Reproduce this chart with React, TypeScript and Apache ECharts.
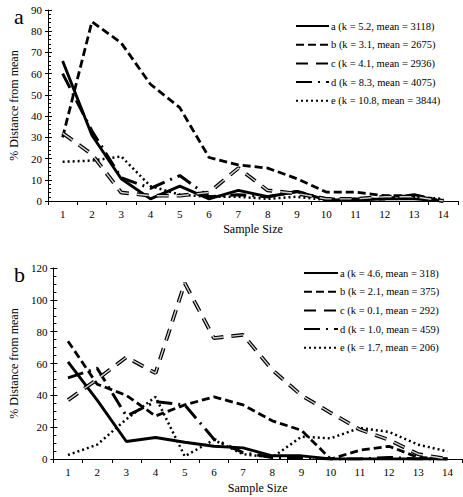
import React, { useEffect, useRef } from "react";
import * as echarts from "echarts";

const categories = ["1", "2", "3", "4", "5", "6", "7", "8", "9", "10", "11", "12", "13", "14"];

// Panel a
const namesA = [
  "a (k = 5.2, mean = 3118)",
  "b (k = 3.1, mean = 2675)",
  "c (k = 4.1, mean = 2936)",
  "d (k = 8.3, mean = 4075)",
  "e (k = 10.8, mean = 3844)",
];
const aA = [66, 31, 10.5, 1, 7, 1, 5, 2, 4.5, 0.5, 0.5, 1, 1, 0];
const bA = [30, 84.5, 74.5, 55, 44, 20.5, 17, 15.5, 10.5, 4.2, 4.2, 2.5, 2.5, 0];
const cA = [32, 22, 4, 2.5, 2.5, 4, 15.5, 5, 3.5, 1, 1, 2, 2, 0];
const dA = [60, 33, 11, 6, 12, 2, 3, 2, 4.5, 1, 1, 1, 3, 0];
const eA = [18.5, 19, 21, 7, 3, 2, 2, 1, 2, 0.5, 1, 1, 2, 1];

// Panel b
const namesB = [
  "a (k = 4.6, mean = 318)",
  "b (k = 2.1, mean = 375)",
  "c (k = 0.1, mean = 292)",
  "d (k = 1.0, mean = 459)",
  "e (k = 1.7, mean = 206)",
];
const aB = [61, 37, 11, 13.5, 10.5, 8, 7, 2, 2, 0, 0, 0, 0, 0];
const bB = [74, 47, 40, 27, 34, 39, 34, 24, 18, 0, 5.5, 8, 1, 0];
const cB = [37, 50, 64, 54, 110.5, 76, 78, 56, 40, 29, 18.5, 12, 3, 0];
const dB = [51, 57, 27, 36, 34, 12.5, 4, 1, 1, 0, 0, 1, 0, 0];
const eB = [2.5, 9, 25, 39, 1.7, 12, 3, 1, 14, 13, 19.5, 17, 9, 4.8];

const FONT = "'Liberation Serif', 'Times New Roman', serif";

type Style = { type: any; width: number };
const STYLES: Style[] = [
  { type: "solid", width: 2.9 },
  { type: [8, 4], width: 2.8 },
  { type: [12, 8], width: 3.8 },
  { type: [16, 6, 2, 6], width: 3 },
  { type: [2, 3], width: 2.5 },
];

function buildSeries(names: string[], datas: number[][], gi: number) {
  const out: any[] = [];
  datas.forEach((d, i) => {
    const st = STYLES[i];
    out.push({
      name: names[i],
      type: "line",
      xAxisIndex: gi,
      yAxisIndex: gi * 2,
      data: d,
      symbol: "none",
      legendIcon: "path://M0,0",
      lineStyle: { color: "#000", width: st.width, type: st.type },
      itemStyle: { color: "#000" },
      z: 3,
    });
    if (i === 2) {
      out.push({
        name: "c-inner-" + gi,
        type: "line",
        xAxisIndex: gi,
        yAxisIndex: gi * 2,
        data: d,
        symbol: "none",
        lineStyle: { color: "#cfcfcf", width: 1.4, type: st.type },
        z: 4,
      });
    }
  });
  return out;
}

function yAxes(gi: number, max: number, interval: number, minorSplit: number, gap: number) {
  return [
    {
      type: "value",
      gridIndex: gi,
      min: 0,
      max,
      interval,
      name: "% Distance from mean",
      nameLocation: "middle",
      nameGap: gap,
      nameTextStyle: { fontFamily: FONT, fontSize: 12, fontWeight: "normal", color: "#000" },
      axisLine: { show: true, lineStyle: { color: "#000", width: 1 } },
      axisTick: { show: true, inside: true, length: 4, lineStyle: { color: "#000" } },
      minorTick: { show: true, splitNumber: minorSplit, length: 3, lineStyle: { color: "#000" } },
      splitLine: { show: false },
      axisLabel: { fontFamily: FONT, fontSize: 11, color: "#000", margin: 6 },
    },
    {
      type: "value",
      gridIndex: gi,
      min: 0,
      max,
      interval,
      position: "left",
      axisLine: { show: false },
      axisTick: { show: true, inside: false, length: 3, lineStyle: { color: "#000" } },
      splitLine: { show: false },
      axisLabel: { show: false },
    },
  ];
}

function xAxis(gi: number, gap: number) {
  return {
    type: "category",
    gridIndex: gi,
    data: categories,
    boundaryGap: true,
    name: "Sample Size",
    nameLocation: "middle",
    nameGap: gap,
    nameTextStyle: { fontFamily: FONT, fontSize: 12, fontWeight: "normal", color: "#000" },
    axisLine: { show: true, lineStyle: { color: "#000", width: 1 } },
    axisTick: { show: true, length: 4, lineStyle: { color: "#000" } },
    axisLabel: { fontFamily: FONT, fontSize: 11, color: "#000", margin: 7 },
    splitLine: { show: false },
  };
}

function legend(names: string[], left: number, top: number, w: number) {
  return {
    data: names,
    orient: "vertical",
    left,
    top,
    itemWidth: w,
    itemHeight: 12,
    itemGap: 6.7,
    padding: 0,
    itemStyle: { color: "transparent", borderColor: "transparent", borderWidth: 0 },
    textStyle: { fontFamily: FONT, fontSize: 10.5, lineHeight: 12, color: "#000", padding: [0, 0, 0, -3] },
    selectedMode: false,
  };
}

export default function App() {
  const ref = useRef<HTMLDivElement>(null);
  useEffect(() => {
    if (!ref.current) return;
    const chart = echarts.init(ref.current, undefined, { renderer: "svg" });
    chart.setOption({
      animation: false,
      backgroundColor: "#fff",
      textStyle: { fontFamily: FONT },
      title: [
        { text: "a", left: 9, top: 0, textStyle: { fontFamily: FONT, fontSize: 22, fontWeight: "normal", color: "#000" } },
        { text: "b", left: 9, top: 258, textStyle: { fontFamily: FONT, fontSize: 22, fontWeight: "normal", color: "#000" } },
      ],
      grid: [
        { left: 46, top: 10, right: 5, height: 191 },
        { left: 45, top: 268, right: 1, height: 191 },
      ],
      xAxis: [xAxis(0, 22), xAxis(1, 23)],
      yAxis: [...yAxes(0, 90, 10, 5, 28), ...yAxes(1, 120, 20, 4, 33)],
      legend: [legend(namesA, 295, 20, 33), legend(namesB, 303, 267, 34)],
      series: [
        ...buildSeries(namesA, [aA, bA, cA, dA, eA], 0),
        ...buildSeries(namesB, [aB, bB, cB, dB, eB], 1),
      ],
    });
    return () => chart.dispose();
  }, []);
  return <div ref={ref} style={{ position: "fixed", left: 0, top: 0, width: 463, height: 497 }} />;
}
